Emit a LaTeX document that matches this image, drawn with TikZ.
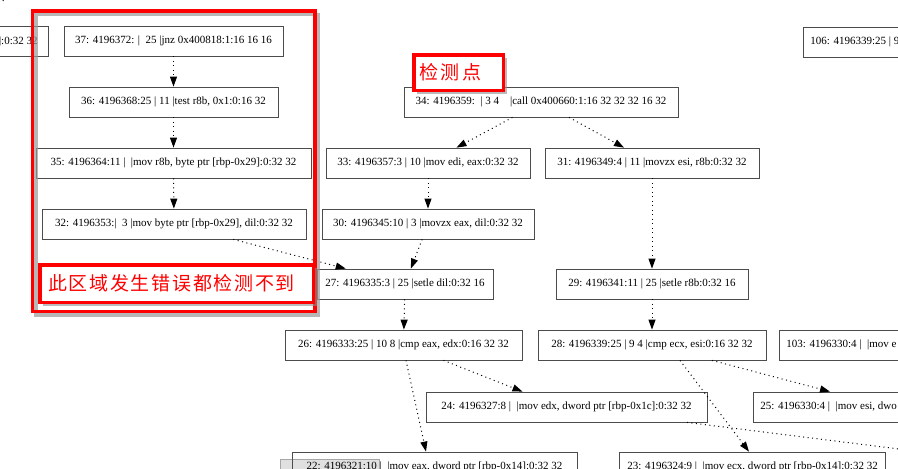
\documentclass[tikz,border=0pt]{standalone}
\usepackage{fontspec}
\setmainfont{Liberation Serif}
\newfontfamily\cjk{Noto Sans CJK SC}
\usetikzlibrary{arrows.meta,shadows}

\tikzset{
	blk/.style={draw=black!70, line width=0.8pt, minimum height=30pt, inner sep=0pt, font=\fontsize{11}{13}\selectfont},
	cut/.style={blk, inner xsep=7pt},
	dep/.style={line width=1pt, dash pattern=on 1pt off 3.5pt, -{Triangle[length=10pt,width=7pt]}},
	redbox/.style={draw=red, line width=3.5pt, fill=white, text=red, inner sep=0pt, drop shadow={shadow xshift=3.5pt, shadow yshift=-3.5pt, fill=black!45, opacity=0.6}}
}

\begin{document}
\begin{tikzpicture}[x=1pt, y=-1pt]
	\path[use as bounding box] (0,0) rectangle (898,469);
	\clip (0,0) rectangle (898,469);
	\fill[white] (0,0) rectangle (898,469);
	\filldraw[fill=black!12, draw=black!35, line width=0.6pt] (280,459) rectangle (379,480);

	\node[cut, anchor=east, inner xsep=11pt] (n0) at (49,41) {]:0:32 32};
	\node[blk, minimum width=219] (n37) at (173.5,41) {37: 4196372: |\ \ 25 |jnz 0x400818:1:16 16 16};
	\node[blk, minimum width=209] (n36) at (173.5,102) {36: 4196368:25 | 11 |test r8b, 0x1:0:16 32};
	\node[blk, minimum width=275] (n35) at (173.5,163) {35: 4196364:11 |\ \ |mov r8b, byte ptr [rbp-0x29]:0:32 32};
	\node[blk, minimum width=264] (n32) at (174,224) {32: 4196353:|\ \ 3 |mov byte ptr [rbp-0x29], dil:0:32 32};
	\node[blk, minimum width=274] (n34) at (541,102) {34: 4196359:\ \ | 3 4\ \ \ \ |call 0x400660:1:16 32 32 32 16 32};
	\node[blk, minimum width=204] (n33) at (428,163) {33: 4196357:3 | 10 |mov edi, eax:0:32 32};
	\node[blk, minimum width=214] (n31) at (652,163) {31: 4196349:4 | 11 |movzx esi, r8b:0:32 32};
	\node[blk, minimum width=212] (n30) at (428,224) {30: 4196345:10 | 3 |movzx eax, dil:0:32 32};
	\node[blk, minimum width=176] (n27) at (405,284) {27: 4196335:3 | 25 |setle dil:0:32 16};
	\node[blk, minimum width=192] (n29) at (652,284) {29: 4196341:11 | 25 |setle r8b:0:32 16};
	\node[blk, minimum width=237] (n26) at (403.5,345) {26: 4196333:25 | 10 8 |cmp eax, edx:0:16 32 32};
	\node[blk, minimum width=228] (n28) at (652,345) {28: 4196339:25 | 9 4 |cmp ecx, esi:0:16 32 32};
	\node[cut, anchor=west] (n103) at (779,345) {103: 4196330:4 |\ \ |mov e};
	\node[cut, anchor=west] (n106) at (803,42) {106: 4196339:25 | 9};
	\node[blk, minimum width=281] (n24) at (566.5,407) {24: 4196327:8 |\ \ |mov edx, dword ptr [rbp-0x1c]:0:32 32};
	\node[cut, anchor=west] (n25) at (753,407) {25: 4196330:4 |\ \ |mov esi, dwo};
	\node[blk, minimum width=285] (n22) at (434.5,467) {22: 4196321:10 |\ \ |mov eax, dword ptr [rbp-0x14]:0:32 32};
	\node[cut, anchor=west, inner xsep=8pt] (n23) at (619,467) {23: 4196324:9 |\ \ |mov ecx, dword ptr [rbp-0x14]:0:32 32};

	\coordinate (offL) at (-40,15);
	\coordinate (offT) at (20,-5);
	\coordinate (offR) at (915,451);

	\draw[dep, -] (offL) -- (offT);
	\draw[dep] (n37) -- (n36);
	\draw[dep] (n36) -- (n35);
	\draw[dep] (n35) -- (n32);
	\draw[dep] (n32) -- (n27);
	\draw[dep] (n34) -- (n33);
	\draw[dep] (n34) -- (n31);
	\draw[dep] (n33) -- (n30);
	\draw[dep] (n31) -- (n29);
	\draw[dep] (n30) -- (n27);
	\draw[dep] (n27) -- (n26);
	\draw[dep] (n29) -- (n28);
	\draw[dep] ([xshift=40pt]n26.south) -- ([xshift=-44pt]n24.north);
	\draw[dep] ([xshift=2.5pt]n26.south) -- ([xshift=-8.5pt]n22.north);
	\draw[dep] ([xshift=28pt]n28.south) -- ([xshift=130pt]n23.north west);
	\draw[dep] ([xshift=60pt]n28.south) -- ([xshift=77pt]n25.north west);
	\draw[dep] ([xshift=120.5pt]n24.south) -- (offR);

	\draw[black!40, opacity=0.7, line width=3.5pt] (36,14.5) rectangle (318.5,315);
	\draw[red, line width=3.5pt] (32.5,11) rectangle (315,311.5);
	\node[redbox, minimum width=273.5, minimum height=37.5, font=\cjk\fontsize{19}{21}\selectfont\addfontfeature{LetterSpace=9}] (warn) at (176.5,283.5) {此区域发生错误都检测不到\hspace*{10pt}};
	\node[redbox, minimum width=89.5, minimum height=35.5, font=\cjk\fontsize{19}{21}\selectfont\addfontfeature{LetterSpace=14}] (probe) at (458.5,72.5) {检测点\hspace*{16pt}};
\end{tikzpicture}
\end{document}
